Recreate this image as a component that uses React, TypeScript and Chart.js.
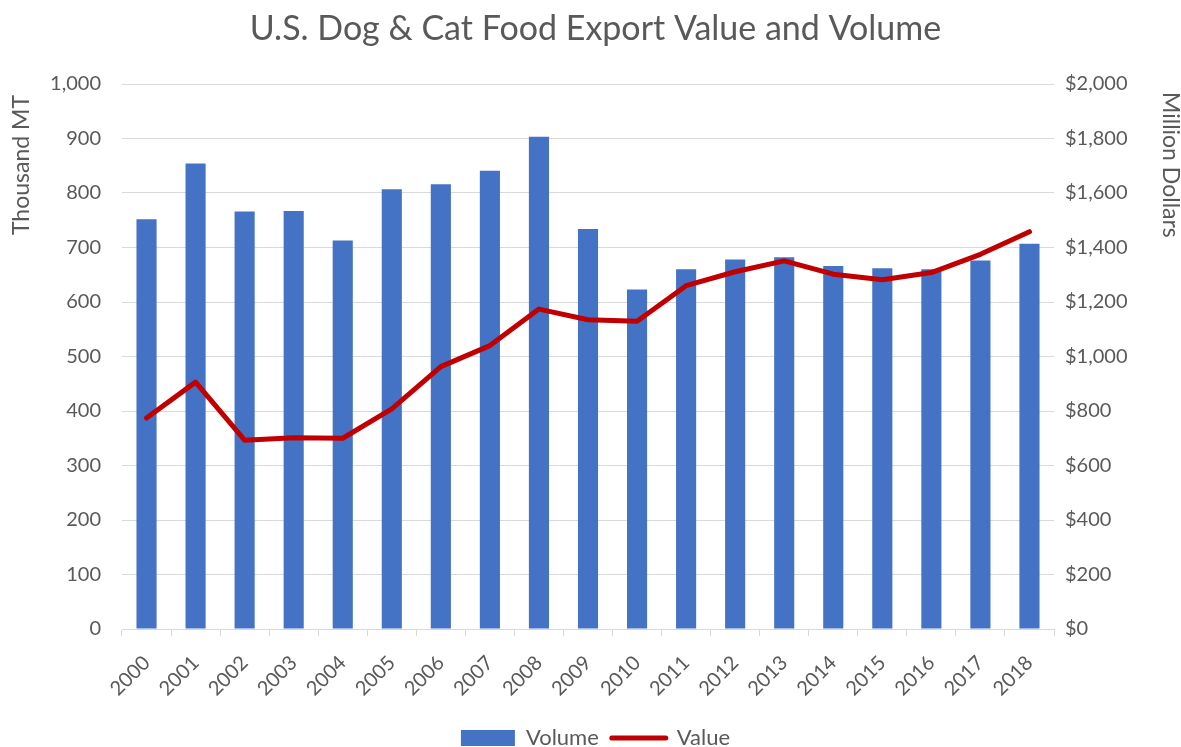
import React, { useEffect, useRef } from 'react';
import { Chart, registerables } from 'chart.js';

Chart.register(...registerables);

const years = ['2000', '2001', '2002', '2003', '2004', '2005', '2006', '2007', '2008', '2009', '2010', '2011', '2012', '2013', '2014', '2015', '2016', '2017', '2018'];
const volumeThousandMT = [752, 854, 766, 767, 713, 807, 816, 841, 903, 734, 623, 660, 678, 682, 666, 662, 660, 676, 707];
const valueMillionUSD = [774, 906, 693, 702, 700, 808, 963, 1040, 1174, 1135, 1129, 1260, 1311, 1351, 1302, 1282, 1308, 1375, 1458];

const leftMax = 1000;
const leftStep = 100;
const rightMax = 2000;
const rightStep = 200;
const leftTitle = 'Thousand MT';
const rightTitle = 'Million Dollars';

const TEXT = '#595959';
const GRID = '#d9d9d9';
const BAR = '#4472c4';
const LINE = '#c00000';
const FONT = 'Lato';

const axisTitlePlugin = {
  id: 'axisTitles',
  afterDraw(chart: any) {
    const { ctx, chartArea } = chart;
    ctx.save();
    ctx.font = `23px ${FONT}`;
    ctx.fillStyle = TEXT;
    ctx.textBaseline = 'middle';
    ctx.save();
    ctx.translate(22, chartArea.top + 11);
    ctx.rotate(-Math.PI / 2);
    ctx.textAlign = 'right';
    ctx.fillText(leftTitle, 0, 0);
    ctx.restore();
    ctx.save();
    ctx.translate(1170, chartArea.top + 8);
    ctx.rotate(Math.PI / 2);
    ctx.textAlign = 'left';
    ctx.fillText(rightTitle, 0, 0);
    ctx.restore();
    ctx.restore();
  },
};

export default function App() {
  const ref = useRef<HTMLCanvasElement | null>(null);

  useEffect(() => {
    document.body.style.margin = '0';
    const canvas = ref.current;
    if (!canvas) return;
    const chart = new Chart(canvas, {
      type: 'bar',
      data: {
        labels: years,
        datasets: [
          {
            type: 'bar',
            label: 'Volume',
            data: volumeThousandMT,
            backgroundColor: BAR,
            borderWidth: 0,
            barPercentage: 0.41,
            categoryPercentage: 1,
            yAxisID: 'y',
            order: 1,
          },
          {
            type: 'line',
            label: 'Value',
            data: valueMillionUSD,
            borderColor: LINE,
            backgroundColor: LINE,
            borderWidth: 5,
            pointRadius: 0,
            tension: 0,
            borderCapStyle: 'round',
            borderJoinStyle: 'round',
            yAxisID: 'y1',
            order: 0,
          } as any,
        ],
      },
      plugins: [axisTitlePlugin],
      options: {
        responsive: false,
        animation: false,
        layout: { padding: { left: 10, right: 0, top: 0, bottom: -12 } },
        plugins: {
          tooltip: { enabled: false },
          title: {
            display: true,
            text: 'U.S. Dog & Cat Food Export Value and Volume',
            color: TEXT,
            font: { family: FONT, size: 34, weight: 'normal' },
            padding: { top: 9, bottom: 34.2 },
          },
          legend: {
            display: true,
            position: 'bottom',
            labels: {
              color: TEXT,
              font: { family: FONT, size: 22 },
              usePointStyle: true,
              pointStyleWidth: 54,
              boxHeight: 16,
              padding: 13,
              generateLabels: () => [
                {
                  text: 'Volume',
                  fillStyle: BAR,
                  strokeStyle: BAR,
                  lineWidth: 0,
                  pointStyle: 'rect',
                  fontColor: TEXT,
                  datasetIndex: 0,
                  hidden: false,
                },
                {
                  text: 'Value',
                  fillStyle: LINE,
                  strokeStyle: LINE,
                  lineWidth: 5,
                  lineCap: 'round',
                  pointStyle: 'line',
                  fontColor: TEXT,
                  datasetIndex: 1,
                  hidden: false,
                },
              ] as any,
            },
          },
        },
        scales: {
          x: {
            grid: {
              display: true,
              offset: true,
              drawOnChartArea: false,
              drawTicks: true,
              tickLength: 7,
              color: GRID,
              lineWidth: 1,
            },
            border: { display: true, color: GRID, width: 1 },
            ticks: {
              color: TEXT,
              font: { family: FONT, size: 20 },
              minRotation: 45,
              maxRotation: 45,
              autoSkip: false,
              padding: 15,
            },
            afterFit: (s: any) => {
              s.height = 85;
            },
          },
          y: {
            position: 'left',
            min: 0,
            max: leftMax,
            grid: { color: GRID, lineWidth: 1, drawTicks: false },
            border: { display: false },
            ticks: {
              stepSize: leftStep,
              color: TEXT,
              font: { family: FONT, size: 20 },
              padding: 21,
              callback: (v: any) => Number(v).toLocaleString('en-US'),
            },
            afterFit: (s: any) => {
              s.width = 112;
            },
          },
          y1: {
            position: 'right',
            min: 0,
            max: rightMax,
            grid: { drawOnChartArea: false, drawTicks: false },
            border: { display: false },
            ticks: {
              stepSize: rightStep,
              color: TEXT,
              font: { family: FONT, size: 20 },
              padding: 11,
              callback: (v: any) => '$' + Number(v).toLocaleString('en-US'),
            },
            afterFit: (s: any) => {
              s.width = 127;
            },
          },
        },
      },
    });
    return () => chart.destroy();
  }, []);

  return (
    <div style={{ width: 1181, height: 747, background: '#fff' }}>
      <canvas ref={ref} width={1181} height={747} style={{ width: 1181, height: 747, display: 'block' }} />
    </div>
  );
}
